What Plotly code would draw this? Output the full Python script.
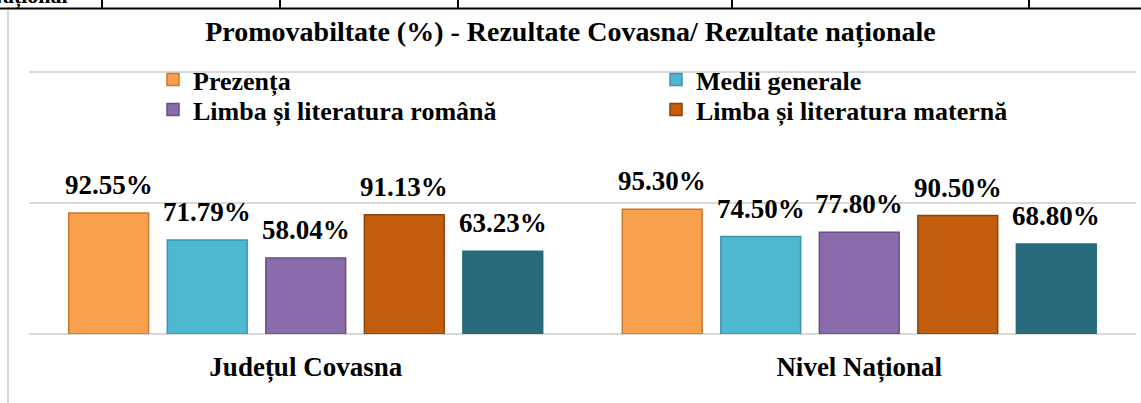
import plotly.graph_objects as go

# ---------------- data ----------------
categories = ["Județul Covasna", "Nivel Național"]
series_names = ["Prezența", "Medii generale", "Limba și literatura română",
                "Limba și literatura maternă", "Altele"]
prezenta = [92.55, 95.30]
medii_generale = [71.79, 74.50]
limba_romana = [58.04, 77.80]
limba_materna = [91.13, 90.50]
altele = [63.23, 68.80]
title_text = "Promovabiltate (%) - Rezultate Covasna/ Rezultate naționale"

series_values = [prezenta, medii_generale, limba_romana, limba_materna, altele]
colors = ["#F9A04C", "#4FB8D1", "#8A6BAB", "#C35E0E", "#286B7D"]
edge_colors = ["#C9782F", "#3A95AB", "#6A4F8A", "#8F4208", "#286B7D"]
# one legend box per visible entry: (legend id, left px, top px)
legend_boxes = [("legend", 153, 56), ("legend2", 656, 56),
                ("legend3", 153, 86), ("legend4", 656, 86), None]

# ---------------- geometry (pixels) ----------------
W, H = 1141, 403
Y_TOP = 201  # a hair above 200 so the 200 gridline is drawn
ML, MR, MB = 29, 5, 69
PH = 262 * Y_TOP / 200
MT = H - MB - PH
PW = W - ML - MR
BARGAP, BARGROUPGAP = 0.11, 0.19
FONT = "Liberation Serif"


def px_x(px):
    return (px - ML) / PW


def px_y(py):
    return (H - MB - py) / PH


def bold(size):
    return dict(family=FONT, size=size, color="black", weight="bold")


fig = go.Figure()
legend_layout = {}
for i, (name, vals) in enumerate(zip(series_names, series_values)):
    kw = dict(showlegend=legend_boxes[i] is not None)
    if legend_boxes[i]:
        lid, lx, ly = legend_boxes[i]
        kw["legend"] = lid
        legend_layout[lid] = dict(
            x=px_x(lx), y=1 - ly / H, xanchor="left", yanchor="top",
            yref="container", orientation="v", font=bold(26),
            bgcolor="rgba(0,0,0,0)", itemclick=False, itemdoubleclick=False)
    fig.add_trace(go.Bar(
        name=name, x=categories, y=vals,
        marker=dict(color=colors[i], line=dict(color=edge_colors[i], width=1.5)),
        hoverinfo="skip", **kw))

# data labels positioned over each bar via the category axis
n = len(series_values)
slot = (1 - BARGAP) / n
annotations = []
for i, vals in enumerate(series_values):
    for c, v in enumerate(vals):
        annotations.append(dict(
            x=c - (1 - BARGAP) / 2 + (i + 0.5) * slot, y=v,
            xref="x", yref="y", text=f"{v:.2f}%", showarrow=False,
            yanchor="bottom", xanchor="center", yshift=11, font=bold(27)))

# cut-off table text at the very top of the page
annotations.append(dict(
    x=px_x(70), y=px_y(11), xref="paper", yref="paper", text="Național",
    showarrow=False, xanchor="right", yanchor="bottom", font=bold(22)))

shapes = [
    # left border of the chart frame
    dict(type="line", xref="paper", yref="paper", x0=px_x(8), x1=px_x(8),
         y0=px_y(9), y1=px_y(H + 2), line=dict(color="#D9D9D9", width=2)),
    # table row above the chart
    dict(type="line", xref="paper", yref="paper", x0=px_x(-2), x1=px_x(W + 2),
         y0=px_y(8), y1=px_y(8), line=dict(color="black", width=2)),
]
for vx in [102, 280, 458, 732, 1029]:
    shapes.append(dict(type="line", xref="paper", yref="paper", x0=px_x(vx), x1=px_x(vx),
                       y0=px_y(-2), y1=px_y(8), line=dict(color="black", width=2)))

fig.update_layout(
    width=W, height=H,
    margin=dict(l=ML, r=MR, t=MT, b=MB, pad=0, autoexpand=False),
    paper_bgcolor="white", plot_bgcolor="white",
    barmode="group", bargap=BARGAP, bargroupgap=BARGROUPGAP,
    title=dict(text=title_text, x=0.5, xanchor="center",
               y=1 - 31 / H, yanchor="middle", yref="container", font=bold(28)),
    xaxis=dict(showgrid=False, showline=False, ticks="", tickfont=bold(27),
               ticklabelstandoff=14),
    yaxis=dict(range=[0, Y_TOP], tickvals=[100, 200], showticklabels=False,
               showgrid=True, gridcolor="#D9D9D9", gridwidth=2, zeroline=True,
               zerolinecolor="#D9D9D9", zerolinewidth=2, showline=False),
    annotations=annotations, shapes=shapes,
    font=dict(family=FONT, color="black"),
    **legend_layout,
)

fig.write_html(
    "out.html",
    config={"displayModeBar": False},
    post_script="document.body.style.margin='0';document.body.style.overflow='hidden';",
)
